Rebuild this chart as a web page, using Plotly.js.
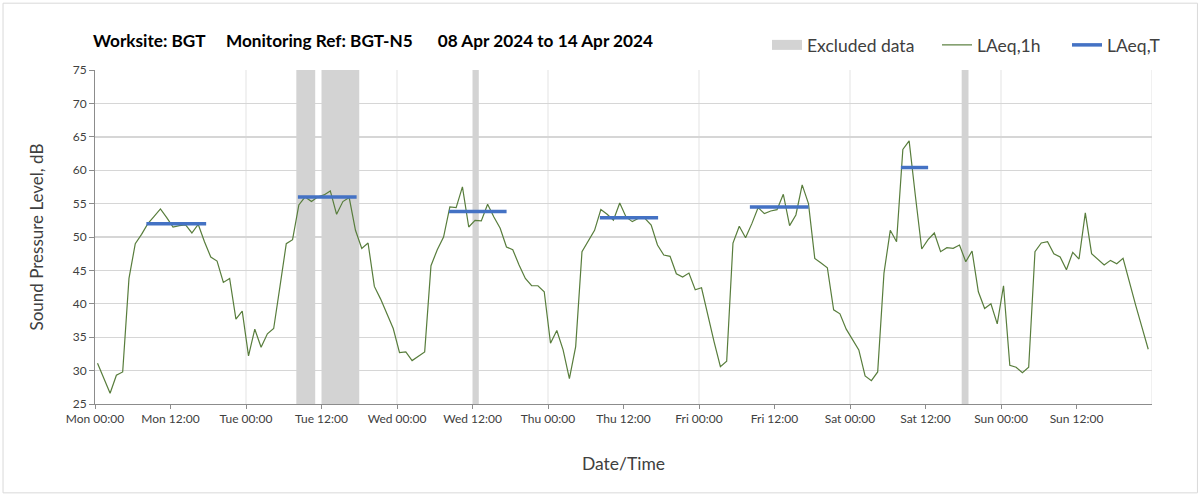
<!DOCTYPE html>
<html><head><meta charset="utf-8">
<script src="https://cdn.plot.ly/plotly-3.0.1.min.js"></script>
<style>html,body{margin:0;padding:0;background:#fff}#chart{width:1203px;height:495px}</style>
</head><body><div id="chart"></div>
<script>
// Hourly LAeq,1h values (dB), one array per day, 00:00 .. 23:00
const monLevels = [31.1,28.8,26.6,29.3,29.8,43.8,49.0,50.4,52.0,53.1,54.2,52.9,51.5,51.7,51.8,50.6,51.9,49.3,47.0,46.4,43.2,43.8,37.7,38.9];
const tueLevels = [32.2,36.2,33.5,35.5,36.3,42.6,49.0,49.6,54.8,56.0,55.3,56.0,56.3,56.9,53.4,55.3,55.9,51.0,48.3,49.1,42.6,40.7,38.5,36.3];
const wedLevels = [32.7,32.8,31.5,32.1,32.8,45.7,48.1,50.0,54.5,54.4,57.5,51.5,52.5,52.4,54.9,53.0,51.3,48.5,48.1,45.8,43.8,42.7,42.7,41.8];
const thuLevels = [34.1,36.0,33.1,28.8,33.6,47.8,49.3,51.0,54.1,53.4,52.5,55.1,53.0,52.3,52.8,52.8,51.8,48.8,47.3,47.1,44.5,44.0,44.6,42.1];
const friLevels = [42.4,38.1,34.3,30.6,31.4,49.1,51.6,49.9,52.0,54.4,53.5,53.9,54.1,56.4,51.7,53.3,57.8,55.0,46.8,46.1,45.4,39.1,38.5,36.2];
const satLevels = [34.6,33.1,29.2,28.5,29.8,44.6,51.0,49.3,63.1,64.4,56.1,48.2,49.6,50.6,47.8,48.4,48.3,48.8,46.3,47.9,41.8,39.3,40.0,37.0];
const sunLevels = [42.7,30.8,30.5,29.7,30.5,47.8,49.1,49.3,47.5,47.0,45.1,47.7,46.7,53.6,47.5,46.7,45.8,46.5,46.0,46.8,43.1,39.8,36.5,33.2];

// Period LAeq,T
const periodStart = ['2024-04-08 08:10','2024-04-09 08:15','2024-04-10 08:15','2024-04-11 08:15','2024-04-12 08:05','2024-04-13 08:05'];
const periodEnd   = ['2024-04-08 17:40','2024-04-09 17:35','2024-04-10 17:25','2024-04-11 17:30','2024-04-12 17:25','2024-04-13 12:25'];
const periodLevels = [52.0,56.0,53.8,52.9,54.5,60.4];

// Excluded data windows
const excludedStart = ['2024-04-09 08:00','2024-04-09 12:00','2024-04-10 12:00','2024-04-13 17:45'];
const excludedEnd   = ['2024-04-09 11:00','2024-04-09 18:00','2024-04-10 13:00','2024-04-13 18:50'];

// Axis ticks
const tickValues = ['2024-04-08 00:00','2024-04-08 12:00','2024-04-09 00:00','2024-04-09 12:00','2024-04-10 00:00','2024-04-10 12:00','2024-04-11 00:00','2024-04-11 12:00','2024-04-12 00:00','2024-04-12 12:00','2024-04-13 00:00','2024-04-13 12:00','2024-04-14 00:00','2024-04-14 12:00'];
const tickLabels = ['Mon 00:00','Mon 12:00','Tue 00:00','Tue 12:00','Wed 00:00','Wed 12:00','Thu 00:00','Thu 12:00','Fri 00:00','Fri 12:00','Sat 00:00','Sat 12:00','Sun 00:00','Sun 12:00'];
const dayBoundaries = ['2024-04-09 00:00','2024-04-10 00:00','2024-04-11 00:00','2024-04-12 00:00','2024-04-13 00:00','2024-04-14 00:00','2024-04-15 00:00'];
const yTickValues = [25,30,35,40,45,50,55,60,65,70,75];

const firstSampleMs = Date.UTC(2024,3,8,0,24);
function fmt(ms){ return new Date(ms).toISOString().replace('T',' ').slice(0,19); }

const hourly = [].concat(monLevels,tueLevels,wedLevels,thuLevels,friLevels,satLevels,sunLevels);
const hourX = hourly.map((_,i)=>fmt(firstSampleMs + i*3600000));

const exX=[], exY=[];
excludedStart.forEach((s,i)=>{
  const e = excludedEnd[i];
  exX.push(s,e,e,s,s,null); exY.push(25,25,75,75,25,null);
});
const pX=[], pY=[];
periodStart.forEach((s,i)=>{ pX.push(s,periodEnd[i],null); pY.push(periodLevels[i],periodLevels[i],null); });

const FONT = 'Lato, "Open Sans", sans-serif';
const traces = [
  {x:exX, y:exY, type:'scatter', mode:'lines', fill:'toself', fillcolor:'#d3d3d3', line:{width:0,color:'#d3d3d3'}, hoverinfo:'skip', showlegend:false},
  {x:['2024-04-01 00:00'], y:[0], type:'scatter', mode:'lines', name:'Excluded data', legendwidth:125, line:{color:'#d3d3d3', width:10}},
  {x:hourX, y:hourly, type:'scatter', mode:'lines', name:'LAeq,1h', legendwidth:85, line:{color:'#587d3c', width:1.2}},
  {x:pX, y:pY, type:'scatter', mode:'lines', name:'LAeq,T', line:{color:'#4472c4', width:3.5}}
];

const shapes = dayBoundaries.map(d=>({type:'line', xref:'x', yref:'paper', x0:d, x1:d, y0:0, y1:1, line:{color:'#e3e3e3', width:1}, layer:'below'}));
shapes.push({type:'rect', xref:'paper', yref:'paper', x0:-0.087, x1:1.043, y0:-0.266, y1:1.2, line:{color:'#d9d9d9', width:1}, fillcolor:'rgba(0,0,0,0)'});

const sp = '\u00a0\u00a0\u00a0\u00a0\u00a0';
const layout = {
  width:1203, height:495,
  margin:{l:95, r:51, t:70, b:91},
  paper_bgcolor:'#ffffff', plot_bgcolor:'#ffffff',
  font:{family:FONT, color:'#404040', size:12},
  title:{text:'Worksite: BGT'+sp+'Monitoring Ref: BGT-N5'+sp+'\u00a008 Apr 2024 to 14 Apr 2024', x:93/1203, xref:'container', xanchor:'left', y:1-41/495, yref:'container', yanchor:'middle', font:{family:FONT, size:17.2, color:'#000000', weight:'bold'}},
  xaxis:{type:'date', range:['2024-04-08 00:00','2024-04-15 00:00'], tickvals:tickValues, ticktext:tickLabels, showgrid:false, zeroline:false,
    showline:true, linecolor:'#8c8c8c', linewidth:1, ticks:'outside', ticklen:4, tickcolor:'#8c8c8c', tickfont:{size:12, color:'#404040'},
    title:{text:'Date/Time', font:{size:17.5, color:'#404040'}, standoff:32}},
  yaxis:{range:[25,75], tickvals:yTickValues, showgrid:true, gridcolor:'#d6d6d6', gridwidth:1.4, zeroline:false,
    showline:true, linecolor:'#8c8c8c', linewidth:1, ticks:'outside', ticklen:5, tickcolor:'#8c8c8c', tickfont:{size:12, color:'#404040'},
    title:{text:'Sound Pressure Level, dB', font:{size:17, color:'#404040'}, standoff:24}},
  legend:{orientation:'h', x:(767-95)/1057, xanchor:'left', y:(404-27)/334, yanchor:'top', font:{size:17.5, color:'#404040'}, bgcolor:'rgba(0,0,0,0)', traceorder:'normal'},
  shapes:shapes,
  showlegend:true
};
Plotly.newPlot('chart', traces, layout, {staticPlot:true, displayModeBar:false});
</script></body></html>
